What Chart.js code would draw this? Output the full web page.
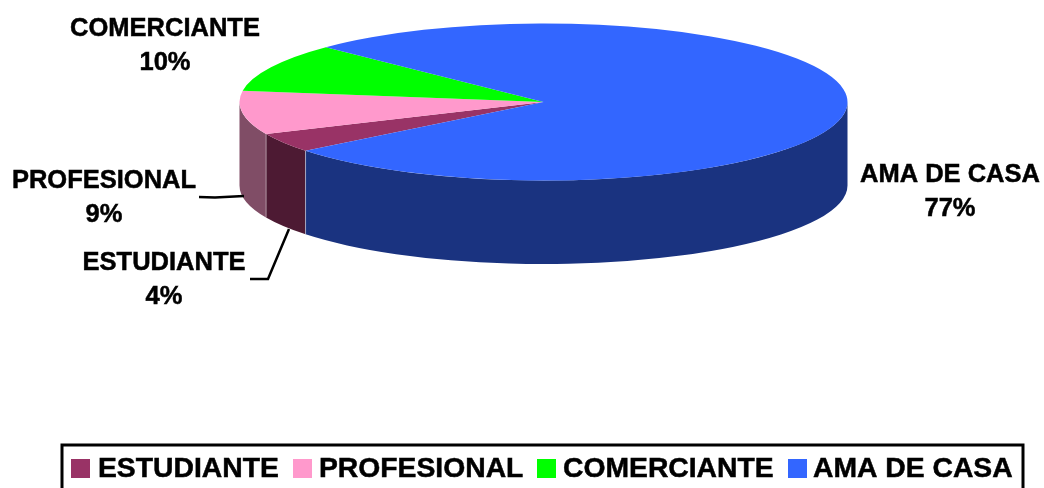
<!DOCTYPE html>
<html>
<head>
<meta charset="utf-8">
<title>Ocupación</title>
<script src="https://cdn.jsdelivr.net/npm/chart.js@4/dist/chart.umd.min.js"></script>
<style>
html,body{margin:0;padding:0;background:#fff;overflow:hidden}
canvas{display:block}
</style>
</head>
<body>
<canvas id="pie" width="1044" height="488"></canvas>
<script>
const categories = ['ESTUDIANTE', 'PROFESIONAL', 'COMERCIANTE', 'AMA DE CASA'];
const shares = [4, 9, 10, 77];
const topColors = ['#993366', '#FF99CC', '#00FF00', '#3366FF'];
const wallColors = ['#4D1A33', '#804D66', '#008000', '#1A3380'];

// Tilted disc: ellipse on screen plus the height of its rim
const disc = { cx: 543.5, cy: 102, rx: 304, ry: 78.5, depth: 83.5 };
const startDegrees = 231.5;

// Callout text anchors and leader lines, in category order
const callouts = [
  { x: 164, y: 263, leader: [[250, 279], [268, 279], [289, 229]] },
  { x: 104, y: 181, leader: [[199, 197], [215, 197.5], [244, 196]] },
  { x: 165, y: 29, leader: null },
  { x: 950, y: 175, leader: null }
];
const calloutFont = 'bold 25.5px "Liberation Sans", Arial, sans-serif';
const calloutLineGap = 34;

const legendFont = 'bold 28.3px "Liberation Sans", Arial, sans-serif';
const legendFrame = { left: 62, top: 445, right: 1023, bottom: 495 };
const legendEntries = [
  { swatch: 71, text: 98 },
  { swatch: 293, text: 319 },
  { swatch: 537, text: 563 },
  { swatch: 788, text: 813 }
];
const swatchSize = 19;
const swatchTop = 459;
const legendBaseline = 477;
const textWeightStroke = 0.5;

// Draws the rim below the visible front half of each slice
function drawRim(ctx, arc, index) {
  const TAU = Math.PI * 2;
  let a = arc.startAngle % TAU;
  if (a < 0) a += TAU;
  const b = a + (arc.endAngle - arc.startAngle);
  const spans = [[0, Math.PI], [TAU, TAU + Math.PI]];
  const { cx, cy, rx, ry, depth } = disc;
  for (const [lo, hi] of spans) {
    const from = Math.max(a, lo);
    const to = Math.min(b, hi);
    if (to <= from) continue;
    ctx.beginPath();
    ctx.ellipse(cx, cy, rx, ry, 0, from, to);
    ctx.ellipse(cx, cy + depth, rx, ry, 0, to, from, true);
    ctx.closePath();
    ctx.fillStyle = wallColors[index];
    ctx.fill();
    // Faint seams where neighbouring rim panels meet
    ctx.strokeStyle = 'rgba(255,255,255,0.35)';
    ctx.lineWidth = 1;
    for (const t of [from, to]) {
      if (t === lo || t === hi) continue;
      const px = cx + rx * Math.cos(t);
      const py = cy + ry * Math.sin(t);
      ctx.beginPath();
      ctx.moveTo(px, py);
      ctx.lineTo(px, py + depth);
      ctx.stroke();
    }
  }
}

function heavyText(ctx, text, x, y) {
  ctx.fillText(text, x, y);
  ctx.strokeText(text, x, y);
}

const tiltedPie = {
  id: 'tiltedPie',
  beforeDatasetsDraw(chart) {
    const ctx = chart.ctx;
    const arcs = chart.getDatasetMeta(0).data;
    ctx.save();
    arcs.forEach((arc, i) => drawRim(ctx, arc, i));
    ctx.restore();
    // Squash the circular pie into the disc's ellipse while slices are painted
    const first = arcs[0];
    ctx.save();
    ctx.translate(disc.cx, disc.cy);
    ctx.scale(disc.rx / first.outerRadius, disc.ry / first.outerRadius);
    ctx.translate(-first.x, -first.y);
  },
  afterDatasetsDraw(chart) {
    chart.ctx.restore();
  },
  afterDraw(chart) {
    const ctx = chart.ctx;
    const labels = chart.data.labels;
    const values = chart.data.datasets[0].data;
    ctx.save();

    // Callouts with their percentages
    ctx.fillStyle = '#000';
    ctx.strokeStyle = '#000';
    ctx.font = calloutFont;
    ctx.textAlign = 'center';
    ctx.textBaseline = 'middle';
    callouts.forEach((c, i) => {
      ctx.lineWidth = textWeightStroke;
      heavyText(ctx, labels[i], c.x, c.y);
      heavyText(ctx, values[i] + '%', c.x, c.y + calloutLineGap);
      if (c.leader) {
        ctx.beginPath();
        c.leader.forEach(([x, y], k) => (k ? ctx.lineTo(x, y) : ctx.moveTo(x, y)));
        ctx.lineWidth = 2.5;
        ctx.stroke();
      }
    });

    // Framed legend along the bottom edge
    const f = legendFrame;
    ctx.lineWidth = 3;
    ctx.strokeRect(f.left, f.top, f.right - f.left, f.bottom - f.top);
    ctx.font = legendFont;
    ctx.textAlign = 'left';
    ctx.textBaseline = 'alphabetic';
    ctx.lineWidth = textWeightStroke;
    legendEntries.forEach((e, i) => {
      ctx.fillStyle = topColors[i];
      ctx.fillRect(e.swatch, swatchTop, swatchSize, swatchSize);
      ctx.fillStyle = '#000';
      heavyText(ctx, labels[i], e.text, legendBaseline);
    });
    ctx.restore();
  }
};

new Chart(document.getElementById('pie'), {
  type: 'pie',
  data: {
    labels: categories,
    datasets: [{
      data: shares,
      backgroundColor: topColors,
      borderWidth: 0,
      clip: false
    }]
  },
  options: {
    responsive: false,
    animation: false,
    rotation: startDegrees,
    plugins: { legend: { display: false }, tooltip: { enabled: false } }
  },
  plugins: [tiltedPie]
});
</script>
</body>
</html>
